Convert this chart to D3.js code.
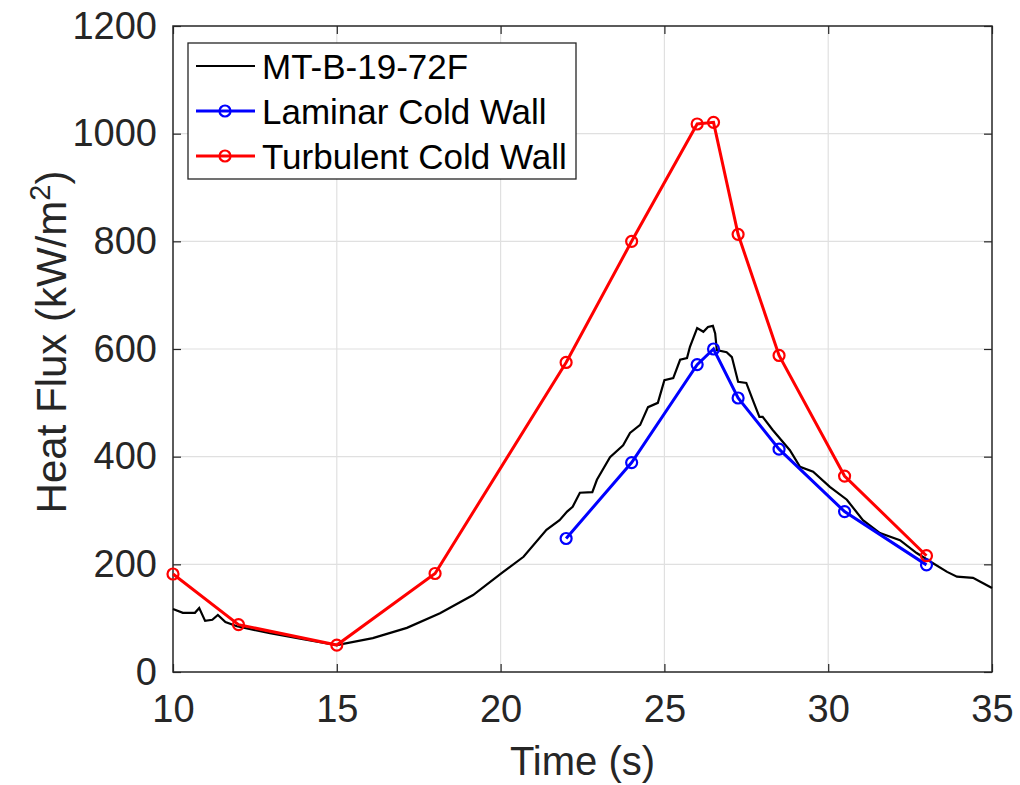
<!DOCTYPE html>
<html>
<head>
<meta charset="utf-8">
<script src="https://cdnjs.cloudflare.com/ajax/libs/d3/7.8.5/d3.min.js"></script>
<style>
  body { margin: 0; background: #fff; }
  svg { font-family: "Liberation Sans", Arial, Helvetica, sans-serif; }
  .grid line { stroke: #e0e0e0; stroke-width: 1.2; }
  .axlabel { font-size: 40px; fill: #262626; }
  .legtext { font-size: 35px; fill: #000; }
</style>
</head>
<body>
<div id="chart"></div>
<script>
const measTime = [10, 10.3, 10.67, 10.8, 10.98, 11.2, 11.37, 11.6, 11.95, 12.96, 13.97, 15.0,
  16.1, 17.14, 18.15, 19.16, 20.04, 20.7, 21.4, 21.8, 22.03, 22.2, 22.42, 22.8, 22.94, 23.34,
  23.74, 23.95, 24.26, 24.5, 24.8, 25.0, 25.27, 25.48, 25.69, 25.78, 26.0, 26.19, 26.33, 26.48,
  26.55, 26.6, 26.9, 27.06, 27.25, 27.5, 27.7, 27.9, 28.0, 28.3, 28.83, 29.14, 29.54, 30.05,
  30.57, 31.06, 31.58, 32.19, 32.7, 33.2, 33.63, 33.93, 34.42, 34.73, 35];
const measFlux = [117, 110, 110, 119, 95, 97, 106, 93, 85, 72, 61, 50,
  63, 82, 109, 143, 184, 214, 264, 282, 298, 307, 333, 334, 357, 399,
  421, 444, 459, 492, 500, 542, 546, 580, 583, 604, 639, 632, 641, 643,
  629, 598, 594, 585, 539, 537, 505, 474, 474, 450, 412, 381, 372, 344,
  320, 282, 258, 245, 221, 202, 186, 177, 175, 165, 156];

// laminar cold wall model
const lamTime = [22, 24, 26, 26.5, 27.25, 28.5, 30.5, 33];
const lamFlux = [248, 389, 571, 600, 509, 414, 298, 199];

// turbulent cold wall model
const turbTime = [10, 12, 15, 18, 22, 24, 26, 26.5, 27.25, 28.5, 30.5, 33];
const turbFlux = [182, 88, 50, 183, 575, 800, 1018, 1021, 813, 588, 364, 216];

const xTicks = [10, 15, 20, 25, 30, 35];
const yTicks = [0, 200, 400, 600, 800, 1000, 1200];

const W = 1020, H = 785;
const margin = {left: 173, right: 28, top: 26, bottom: 113};
const w = W - margin.left - margin.right;
const h = H - margin.top - margin.bottom;

const svg = d3.select('#chart').append('svg')
  .attr('width', W).attr('height', H);

const g = svg.append('g')
  .attr('transform', 'translate(' + margin.left + ',' + margin.top + ')');

const x = d3.scaleLinear().domain([10, 35]).range([0, w]);
const y = d3.scaleLinear().domain([0, 1200]).range([h, 0]);

// grid
g.append('g').attr('class', 'grid')
  .selectAll('line').data(xTicks.slice(1, -1)).enter().append('line')
  .attr('x1', d => x(d)).attr('x2', d => x(d)).attr('y1', 0).attr('y2', h);
g.append('g').attr('class', 'grid')
  .selectAll('line').data(yTicks.slice(1, -1)).enter().append('line')
  .attr('y1', d => y(d)).attr('y2', d => y(d)).attr('x1', 0).attr('x2', w);

// axes, ticks pointing inward like MATLAB
const axColor = '#262626';
const fmt = d3.format('d');
function styleAxis(sel) {
  sel.select('.domain').remove();
  sel.selectAll('.tick line').attr('stroke', axColor).attr('stroke-width', 1.2);
}
g.append('g').attr('transform', 'translate(0,' + h + ')')
  .call(d3.axisBottom(x).tickValues(xTicks).tickFormat(fmt).tickSize(-8).tickPadding(23))
  .call(styleAxis);
g.append('g')
  .call(d3.axisLeft(y).tickValues(yTicks).tickFormat(fmt).tickSize(-8).tickPadding(16))
  .call(styleAxis);
g.append('g')
  .call(d3.axisTop(x).tickValues(xTicks).tickSize(-8).tickFormat(''))
  .call(styleAxis);
g.append('g').attr('transform', 'translate(' + w + ',0)')
  .call(d3.axisRight(y).tickValues(yTicks).tickSize(-8).tickFormat(''))
  .call(styleAxis);
g.selectAll('.tick text').attr('fill', axColor)
  .style('font-size', '38px').style('font-family', '"Liberation Sans", Arial, sans-serif');

g.append('rect').attr('width', w).attr('height', h)
  .attr('fill', 'none').attr('stroke', axColor).attr('stroke-width', 1.5);

// lines
const line = d3.line().x(d => x(d[0])).y(d => y(d[1]));
const meas = measTime.map((t, i) => [t, measFlux[i]]);
const lam = lamTime.map((t, i) => [t, lamFlux[i]]);
const turb = turbTime.map((t, i) => [t, turbFlux[i]]);

const plot = g.append('g');
plot.append('path').datum(meas).attr('d', line)
  .attr('fill', 'none').attr('stroke', '#000').attr('stroke-width', 2.2);

function series(data, color) {
  plot.append('path').datum(data).attr('d', line)
    .attr('fill', 'none').attr('stroke', color).attr('stroke-width', 3);
  plot.selectAll(null).data(data).enter().append('circle')
    .attr('cx', d => x(d[0])).attr('cy', d => y(d[1])).attr('r', 5.5)
    .attr('fill', 'none').attr('stroke', color).attr('stroke-width', 2.2);
}
series(lam, '#0000ff');
series(turb, '#ff0000');

// axis labels
svg.append('text').attr('class', 'axlabel')
  .attr('x', margin.left + w / 2).attr('y', 775)
  .attr('text-anchor', 'middle').text('Time (s)');
const yl = svg.append('text').attr('class', 'axlabel')
  .style('font-size', '42px')
  .attr('transform', 'translate(66,342) rotate(-90)')
  .attr('text-anchor', 'middle');
yl.append('tspan').text('Heat Flux (kW/m');
yl.append('tspan').attr('dy', -16).style('font-size', '29px').text('2');
yl.append('tspan').attr('dy', 16).text(')');

// legend
const legend = svg.append('g').attr('transform', 'translate(188,43)');
legend.append('rect').attr('width', 388).attr('height', 136)
  .attr('fill', '#fff').attr('stroke', axColor).attr('stroke-width', 1.3);
const legItems = [
  {name: 'MT-B-19-72F', color: '#000', marker: false},
  {name: 'Laminar Cold Wall', color: '#0000ff', marker: true},
  {name: 'Turbulent Cold Wall', color: '#ff0000', marker: true}
];
legItems.forEach((d, i) => {
  const yy = 23 + i * 45;
  legend.append('line').attr('x1', 8).attr('x2', 67).attr('y1', yy).attr('y2', yy)
    .attr('stroke', d.color).attr('stroke-width', d.marker ? 3 : 2.2);
  if (d.marker) {
    legend.append('circle').attr('cx', 37).attr('cy', yy).attr('r', 5.5)
      .attr('fill', 'none').attr('stroke', d.color).attr('stroke-width', 2.2);
  }
  legend.append('text').attr('class', 'legtext')
    .attr('x', 74).attr('y', yy + 12.5).text(d.name);
});
</script>
</body>
</html>
